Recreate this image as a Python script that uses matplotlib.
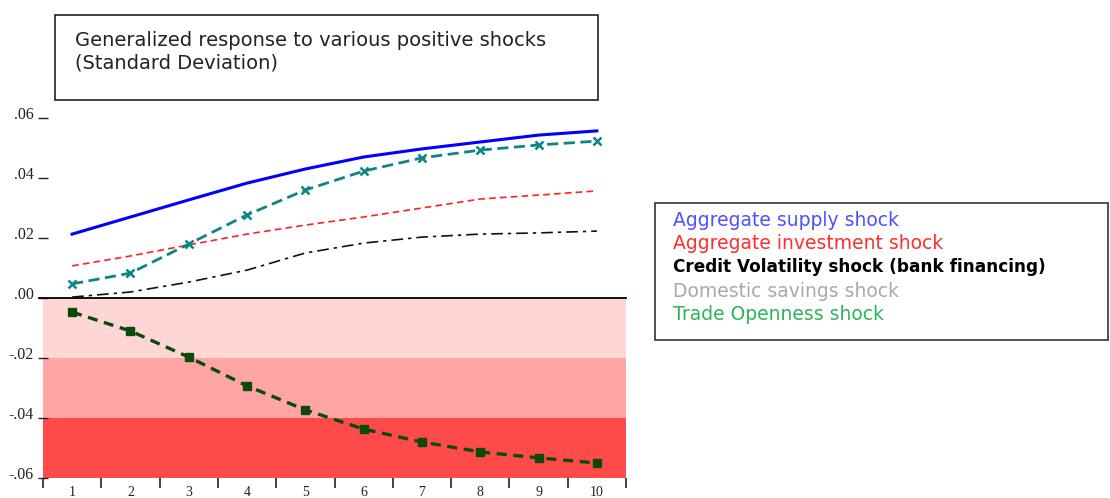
import matplotlib
matplotlib.use("Agg")
import matplotlib.pyplot as plt
import matplotlib.transforms as mtransforms
from matplotlib.patches import Rectangle

# Horizon (periods) and impulse responses
periods = list(range(1, 11))
supply = [0.0213, 0.0270, 0.0327, 0.0383, 0.0430, 0.0470, 0.0497, 0.0520, 0.0543, 0.0557]
investment = [0.0107, 0.0140, 0.0177, 0.0213, 0.0243, 0.0270, 0.0300, 0.0330, 0.0343, 0.0357]
credit = [0.0003, 0.0020, 0.0053, 0.0093, 0.0150, 0.0183, 0.0203, 0.0213, 0.0217, 0.0223]
openness = [0.0047, 0.0083, 0.0180, 0.0277, 0.0360, 0.0423, 0.0467, 0.0493, 0.0510, 0.0523]
savings = [-0.0047, -0.0110, -0.0197, -0.0293, -0.0373, -0.0437, -0.0480, -0.0513, -0.0533, -0.0550]

ytick_values = [-0.06, -0.04, -0.02, 0.00, 0.02, 0.04, 0.06]
ytick_labels = ["-.06", "-.04", "-.02", ".00", ".02", ".04", ".06"]

legend_labels = [
    "Aggregate supply shock",
    "Aggregate investment shock",
    "Credit Volatility shock (bank financing)",
    "Domestic savings shock",
    "Trade Openness shock",
]
legend_colors = ["#4f4fff", "#ff2d2d", "#000000", "#a9a9a9", "#2db35a"]
title_lines = ["Generalized response to various positive shocks", "(Standard Deviation)"]

W, H = 1110, 498
fig = plt.figure(figsize=(W / 100, H / 100), dpi=100)
ax = fig.add_axes([43 / W, (H - 478) / H, (626 - 43) / W, (478 - 109) / H])
ax.set_xlim(0.5, 10.5)
ax.set_ylim(-0.06, 0.063)

# Shaded negative zones
bands = [(0.0, -0.02, "#ffd6d6"), (-0.02, -0.04, "#ffa5a5"), (-0.04, -0.06, "#ff4a4a")]
for top, bottom, col in bands:
    ax.axhspan(bottom, top, color=col, lw=0, zorder=0)

ax.axhline(0, xmin=-0.007, xmax=1.0, color="black", lw=1.3, zorder=2, clip_on=False)

ax.plot(periods, supply, color="#0000ff", lw=2.2, zorder=4)
ax.plot(periods, investment, color="#ff2020", lw=1.2, ls=(0, (4, 2.5)), zorder=3)
ax.plot(periods, credit, color="#111111", lw=1.2, ls=(0, (7, 3, 2, 3)), zorder=3)
ax.plot(periods, openness, color="#0d8585", lw=2.0, ls=(0, (4, 2)), marker="x",
        ms=6, mew=1.8, zorder=4)
ax.plot(periods, savings, color="#0b4a0b", lw=2.4, ls=(0, (3, 2)), marker="s",
        ms=5.5, zorder=4)

for side in ("top", "right", "left", "bottom"):
    ax.spines[side].set_visible(False)

# Y axis ticks and labels
ax.set_yticks(ytick_values)
ax.set_yticklabels(ytick_labels, family="Liberation Serif", fontsize=11.5, color="#222222")
ax.tick_params(axis="y", length=7, width=1.0, direction="inout", pad=3, color="#222222")
offset = mtransforms.ScaledTranslation(0, 5 / 100, fig.dpi_scale_trans)
for lab in ax.get_yticklabels():
    lab.set_transform(lab.get_transform() + offset)

# X axis: labels at periods, tick marks between them
ax.set_xticks(periods)
ax.set_xticklabels([str(p) for p in periods], family="Liberation Serif", fontsize=10,
                   color="#222222")
ax.tick_params(axis="x", length=0, pad=6)
ax.set_xticks([p + 0.5 for p in [0] + periods], minor=True)
ax.tick_params(axis="x", which="minor", length=7, width=1.2, direction="out",
               color="#222222")

# Title box
fig.patches.append(Rectangle((55 / W, (H - 100) / H), (598 - 55) / W, (100 - 15) / H,
                             transform=fig.transFigure, fill=False, ec="#222222", lw=1.2))
for i, line in enumerate(title_lines):
    fig.text(75 / W, (H - 40 - 23 * i) / H, line, family="DejaVu Sans",
             fontsize=14, color="#222222", va="center", ha="left")

# Legend box
fig.patches.append(Rectangle((655 / W, (H - 340) / H), (1108 - 655) / W, (340 - 203) / H,
                             transform=fig.transFigure, fill=False, ec="#333333", lw=1.2))
for i, (lab, col) in enumerate(zip(legend_labels, legend_colors)):
    fig.text(673 / W, (H - 220 - 23.7 * i) / H, lab, family="DejaVu Sans",
             fontsize=13.5 if i != 2 else 12.2, color=col, va="center", ha="left",
             weight="bold" if i == 2 else "normal")

fig.savefig("out.png", dpi=100)
